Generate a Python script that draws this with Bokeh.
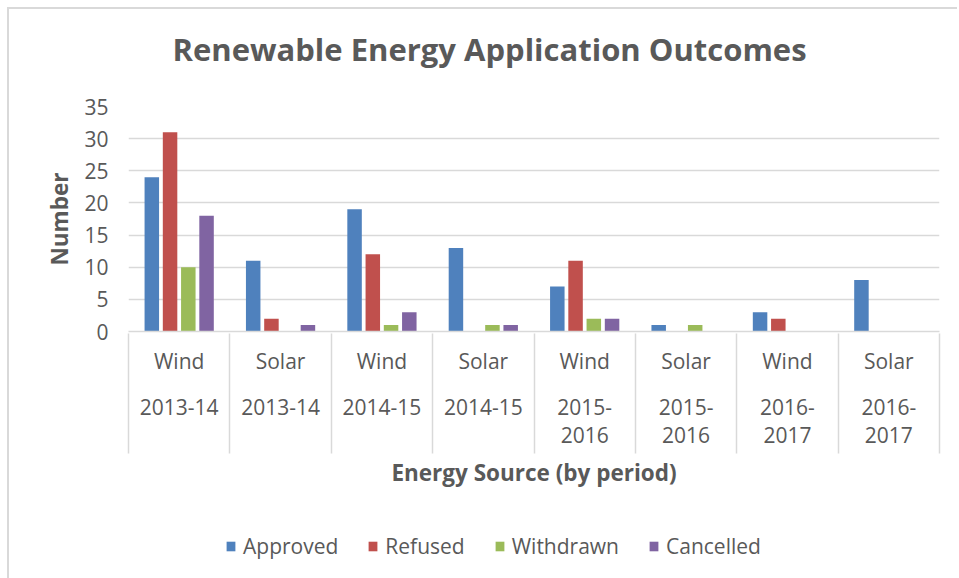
from bokeh.plotting import figure
from bokeh.layouts import column
from bokeh.models import (Range1d, FixedTicker, Legend, LegendItem, ColumnDataSource,
                          LinearAxis, Title)
from bokeh.embed import file_html
from bokeh.resources import INLINE

# ---- data ----
sources = ["Wind", "Solar", "Wind", "Solar", "Wind", "Solar", "Wind", "Solar"]
periods = ["2013-14", "2013-14", "2014-15", "2014-15",
           "2015-2016", "2015-2016", "2016-2017", "2016-2017"]
series = ["Approved", "Refused", "Withdrawn", "Cancelled"]
approved = [24, 11, 19, 13, 7, 1, 3, 8]
refused = [31, 2, 12, 0, 11, 0, 2, 0]
withdrawn = [10, 0, 1, 1, 2, 1, 0, 0]
cancelled = [18, 1, 3, 1, 2, 0, 0, 0]
y_ticks = [0, 5, 10, 15, 20, 25, 30, 35]

colors = ["#4f81bd", "#c0504d", "#9bbb59", "#8064a2"]
TEXT = "#595959"
GRID = "#d9d9d9"
FONT = "Open Sans"
FS = "21px"
FSB = "22.5px"
W = 957

n = len(sources)
p = figure(width=W, height=500, x_range=Range1d(0, n), y_range=Range1d(0, 35),
           output_backend="svg", toolbar_location=None,
           min_border_left=128, min_border_right=W - 939, min_border_top=106,
           min_border_bottom=169, border_fill_color=None)

# title (spacer closest to the frame, then the real title)
p.add_layout(Title(text=" ", text_font_size="1px", standoff=34), "above")
p.add_layout(Title(text="Renewable Energy Application Outcomes", align="left", offset=44,
                   text_font=FONT, text_font_size="31px", text_font_style="bold",
                   text_color=TEXT, standoff=0), "above")

p.outline_line_color = None
p.xgrid.visible = False
p.ygrid.grid_line_color = GRID
p.ygrid.grid_line_width = 1.5

# bars
values = [approved, refused, withdrawn, cancelled]
step = 0.18
bw = 0.143
for i, (name, vals) in enumerate(zip(series, values)):
    xs = [j + 0.5 + (i - 1.5) * step for j in range(n)]
    src = ColumnDataSource(dict(x=xs, top=vals))
    p.vbar(x="x", top="top", width=bw, source=src,
           fill_color=colors[i], line_color=None)

def wrap(s):
    if len(s) > 7 and "-" in s:
        a, b = s.split("-", 1)
        return a + "-\n" + b
    return s

centers = [j + 0.5 for j in range(n)]
bounds = [float(j) for j in range(n + 1)]

# x axis 1: energy source
ax = p.xaxis[0]
ax.ticker = FixedTicker(ticks=centers)
ax.major_label_overrides = {c: sources[j] for j, c in enumerate(centers)}
ax.major_tick_out = 0
ax.major_tick_in = 0
ax.minor_tick_line_color = None
ax.axis_line_color = GRID
ax.axis_line_width = 1.5
ax.major_label_text_font = FONT
ax.major_label_text_font_size = FS
ax.major_label_text_color = TEXT
ax.major_label_standoff = 15

# x axis 2: periods
ax2 = LinearAxis(ticker=FixedTicker(ticks=centers),
                 major_label_overrides={c: wrap(periods[j]) for j, c in enumerate(centers)})
ax2.axis_line_color = None
ax2.major_tick_line_color = None
ax2.minor_tick_line_color = None
ax2.major_label_text_font = FONT
ax2.major_label_text_font_size = FS
ax2.major_label_text_color = TEXT
ax2.major_label_text_line_height = 1.02
ax2.major_label_standoff = 9
p.add_layout(ax2, "below")

# x axis 3: category separators + axis title
ax3 = LinearAxis(ticker=FixedTicker(ticks=[], minor_ticks=bounds))
ax3.axis_line_color = None
ax3.major_tick_line_color = None
ax3.major_label_text_font_size = "0px"
ax3.minor_tick_in = 119
ax3.minor_tick_out = 1
ax3.minor_tick_line_color = GRID
ax3.minor_tick_line_width = 1.5
ax3.axis_label = "Energy Source (by period)"
ax3.axis_label_text_font = FONT
ax3.axis_label_text_font_size = FSB
ax3.axis_label_text_font_style = "bold"
ax3.axis_label_text_color = TEXT
ax3.axis_label_standoff = 3
p.add_layout(ax3, "below")

# y axis
ay = p.yaxis[0]
ay.ticker = FixedTicker(ticks=y_ticks)
ay.axis_line_color = None
ay.major_tick_line_color = None
ay.minor_tick_line_color = None
ay.major_label_text_font = FONT
ay.major_label_text_font_size = FS
ay.major_label_text_color = TEXT
ay.major_label_standoff = 14
ay.axis_label = "Number"
ay.axis_label_text_font = FONT
ay.axis_label_text_font_size = FSB
ay.axis_label_text_font_style = "bold"
ay.axis_label_text_color = TEXT
ay.axis_label_standoff = 6

# legend strip (its frame is aligned with the main frame by the column layout)
p2 = figure(width=W, height=78, x_range=Range1d(0, 1), y_range=Range1d(0, 1),
            x_axis_type=None, y_axis_type=None, output_backend="svg",
            toolbar_location=None, min_border=0, border_fill_color=None,
            background_fill_color=None, outline_line_color=None)
p2.grid.visible = False
leg_r = [p2.vbar(x=[0.5], top=[0], bottom=[0], width=0.01, fill_color=c, line_color=None)
         for c in colors]
legend = Legend(items=[LegendItem(label=s, renderers=[r]) for s, r in zip(series, leg_r)],
                orientation="horizontal", location=(97, 18),
                border_line_color=None, background_fill_alpha=0,
                label_text_font=FONT, label_text_font_size=FS,
                label_text_color=TEXT, glyph_width=11, glyph_height=12,
                spacing=29, label_standoff=7, padding=0, margin=0)
p2.add_layout(legend, "center")

layout = column(p, p2, spacing=0)
layout.styles = {"background-color": "white",
                 "box-shadow": "inset 7px 7px 0 0 #ffffff, inset 9px 9px 0 0 #d9d9d9"}

open("out.html", "w").write(file_html(layout, INLINE))
